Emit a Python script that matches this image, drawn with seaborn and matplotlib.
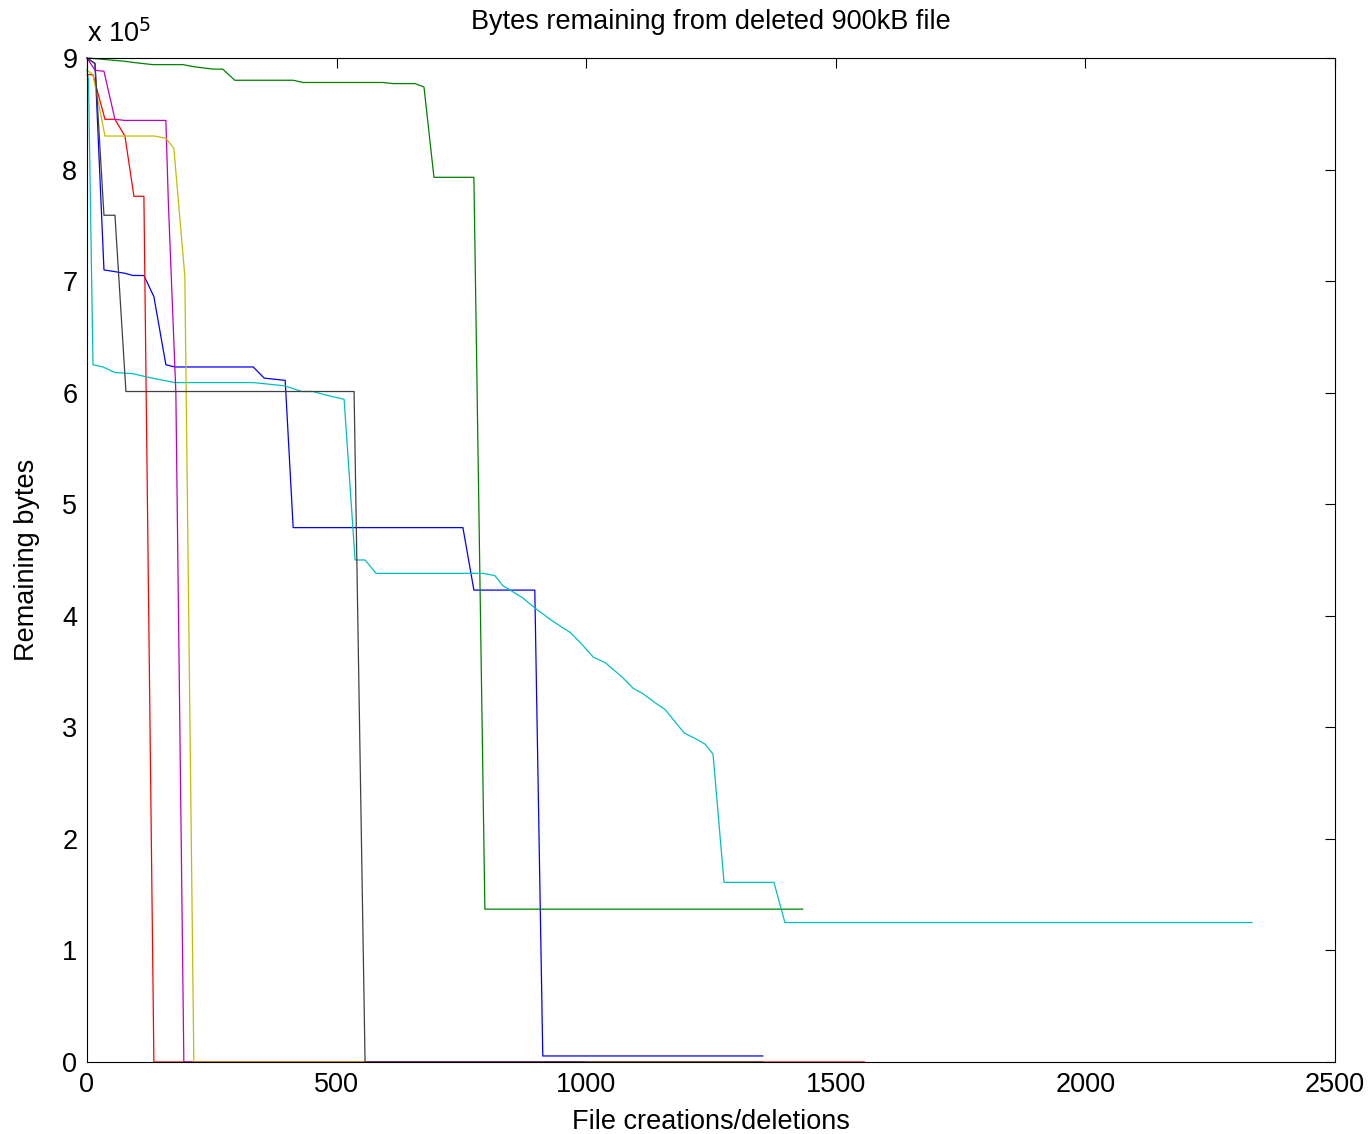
import pandas as pd
import matplotlib
matplotlib.use("Agg")
import matplotlib.pyplot as plt
import seaborn as sns
from matplotlib.ticker import FuncFormatter

sns.set_style("white")
plt.rcParams['font.family'] = ['Liberation Sans', 'DejaVu Sans']
plt.rcParams['text.color'] = 'black'
plt.rcParams['axes.labelcolor'] = 'black'

# Series (x = file creations/deletions, y = remaining bytes)
blue_x = [0, 16, 34, 76, 92, 114, 134, 158, 176, 333, 355, 397, 413, 753, 775, 897, 913, 1354]
blue_y = [900000, 895000, 710000, 707000, 705000, 705000, 686000, 625000, 623000, 623000,
          613000, 611000, 479000, 479000, 423000, 423000, 5400, 5400]

green_x = [0, 76, 92, 112, 132, 192, 216, 253, 272, 296, 413, 433, 593, 613, 657, 675, 695, 775, 797, 1434]
green_y = [900000, 897000, 896000, 895000, 894000, 894000, 892000, 890000, 890000, 880000,
           880000, 878000, 878000, 877000, 877000, 874000, 793000, 793000, 137000, 137000]

red_x = [0, 12, 36, 56, 76, 94, 114, 134, 1558]
red_y = [885000, 885000, 845000, 845000, 830000, 776000, 776000, 0, 0]

cyan_x = [0, 3, 12, 32, 56, 92, 120, 176, 333, 355, 397, 430, 453, 477, 515, 537, 557, 579,
          793, 817, 833, 873, 897, 930, 968, 988, 1014, 1038, 1072, 1094, 1114, 1138, 1158,
          1196, 1218, 1238, 1254, 1276, 1376, 1398, 2334]
cyan_y = [890000, 880000, 625000, 623000, 618000, 617000, 614000, 609000, 609000, 608000,
          606000, 601000, 601000, 598000, 594000, 450000, 450000, 438000, 438000, 436000,
          427000, 416000, 407000, 396000, 385000, 376000, 363000, 358000, 345000, 335000,
          330000, 322000, 316000, 295000, 290000, 285000, 276000, 161000, 161000, 125000, 125000]

magenta_x = [0, 16, 34, 56, 76, 158, 163, 178, 194, 1000]
magenta_y = [900000, 889000, 888000, 845000, 844000, 844000, 770000, 600000, 0, 0]

yellow_x = [0, 12, 36, 136, 158, 174, 196, 214, 560]
yellow_y = [889000, 885000, 830000, 830000, 828000, 819000, 704000, 0, 0]

black_x = [0, 16, 34, 56, 78, 535, 557, 1354]
black_y = [900000, 895000, 759000, 759000, 601000, 601000, 0, 0]

series = {
    'b': (blue_x, blue_y, (0, 0, 1)),
    'g': (green_x, green_y, (0, 0.5, 0)),
    'r': (red_x, red_y, (1, 0, 0)),
    'c': (cyan_x, cyan_y, (0, 0.75, 0.75)),
    'm': (magenta_x, magenta_y, (0.75, 0, 0.75)),
    'y': (yellow_x, yellow_y, (0.75, 0.75, 0)),
    'k': (black_x, black_y, (0.25, 0.25, 0.25)),
}

frames = []
for name, (xs, ys, _) in series.items():
    frames.append(pd.DataFrame({'x': xs, 'y': ys, 'run': name}))
df = pd.concat(frames, ignore_index=True)
palette = {name: col for name, (_, _, col) in series.items()}

fig = plt.figure(figsize=(13.7, 11.34), dpi=100)
ax = fig.add_axes([0.0635, 0.0635, 0.911, 0.8854])

sns.lineplot(data=df, x='x', y='y', hue='run', palette=palette, sort=False,
             estimator=None, linewidth=0.9, legend=False, ax=ax)
for ln in ax.lines:
    ln.set_clip_on(False)

ax.set_xlim(0, 2500)
ax.set_ylim(0, 900000)
ax.set_xticks([0, 500, 1000, 1500, 2000, 2500])
ax.set_yticks([i * 100000 for i in range(10)])
ax.yaxis.set_major_formatter(FuncFormatter(lambda v, p: f"{v / 1e5:.0f}"))

fs = 19.5
ax.tick_params(direction='in', length=7, width=0.8, labelsize=fs, top=True, right=True,
               colors='black', pad=7)
for sp in ax.spines.values():
    sp.set_color('black')
    sp.set_linewidth(0.8)

ax.set_title('Bytes remaining from deleted 900kB file', fontsize=fs, pad=21, color='black')
ax.set_xlabel('File creations/deletions', fontsize=fs, labelpad=8)
ax.set_ylabel('Remaining bytes', fontsize=fs, labelpad=16)
ax.text(0.0, 1.01, r'x 10$^5$', transform=ax.transAxes, fontsize=fs, ha='left', va='bottom')

fig.savefig('out.png', dpi=100)
